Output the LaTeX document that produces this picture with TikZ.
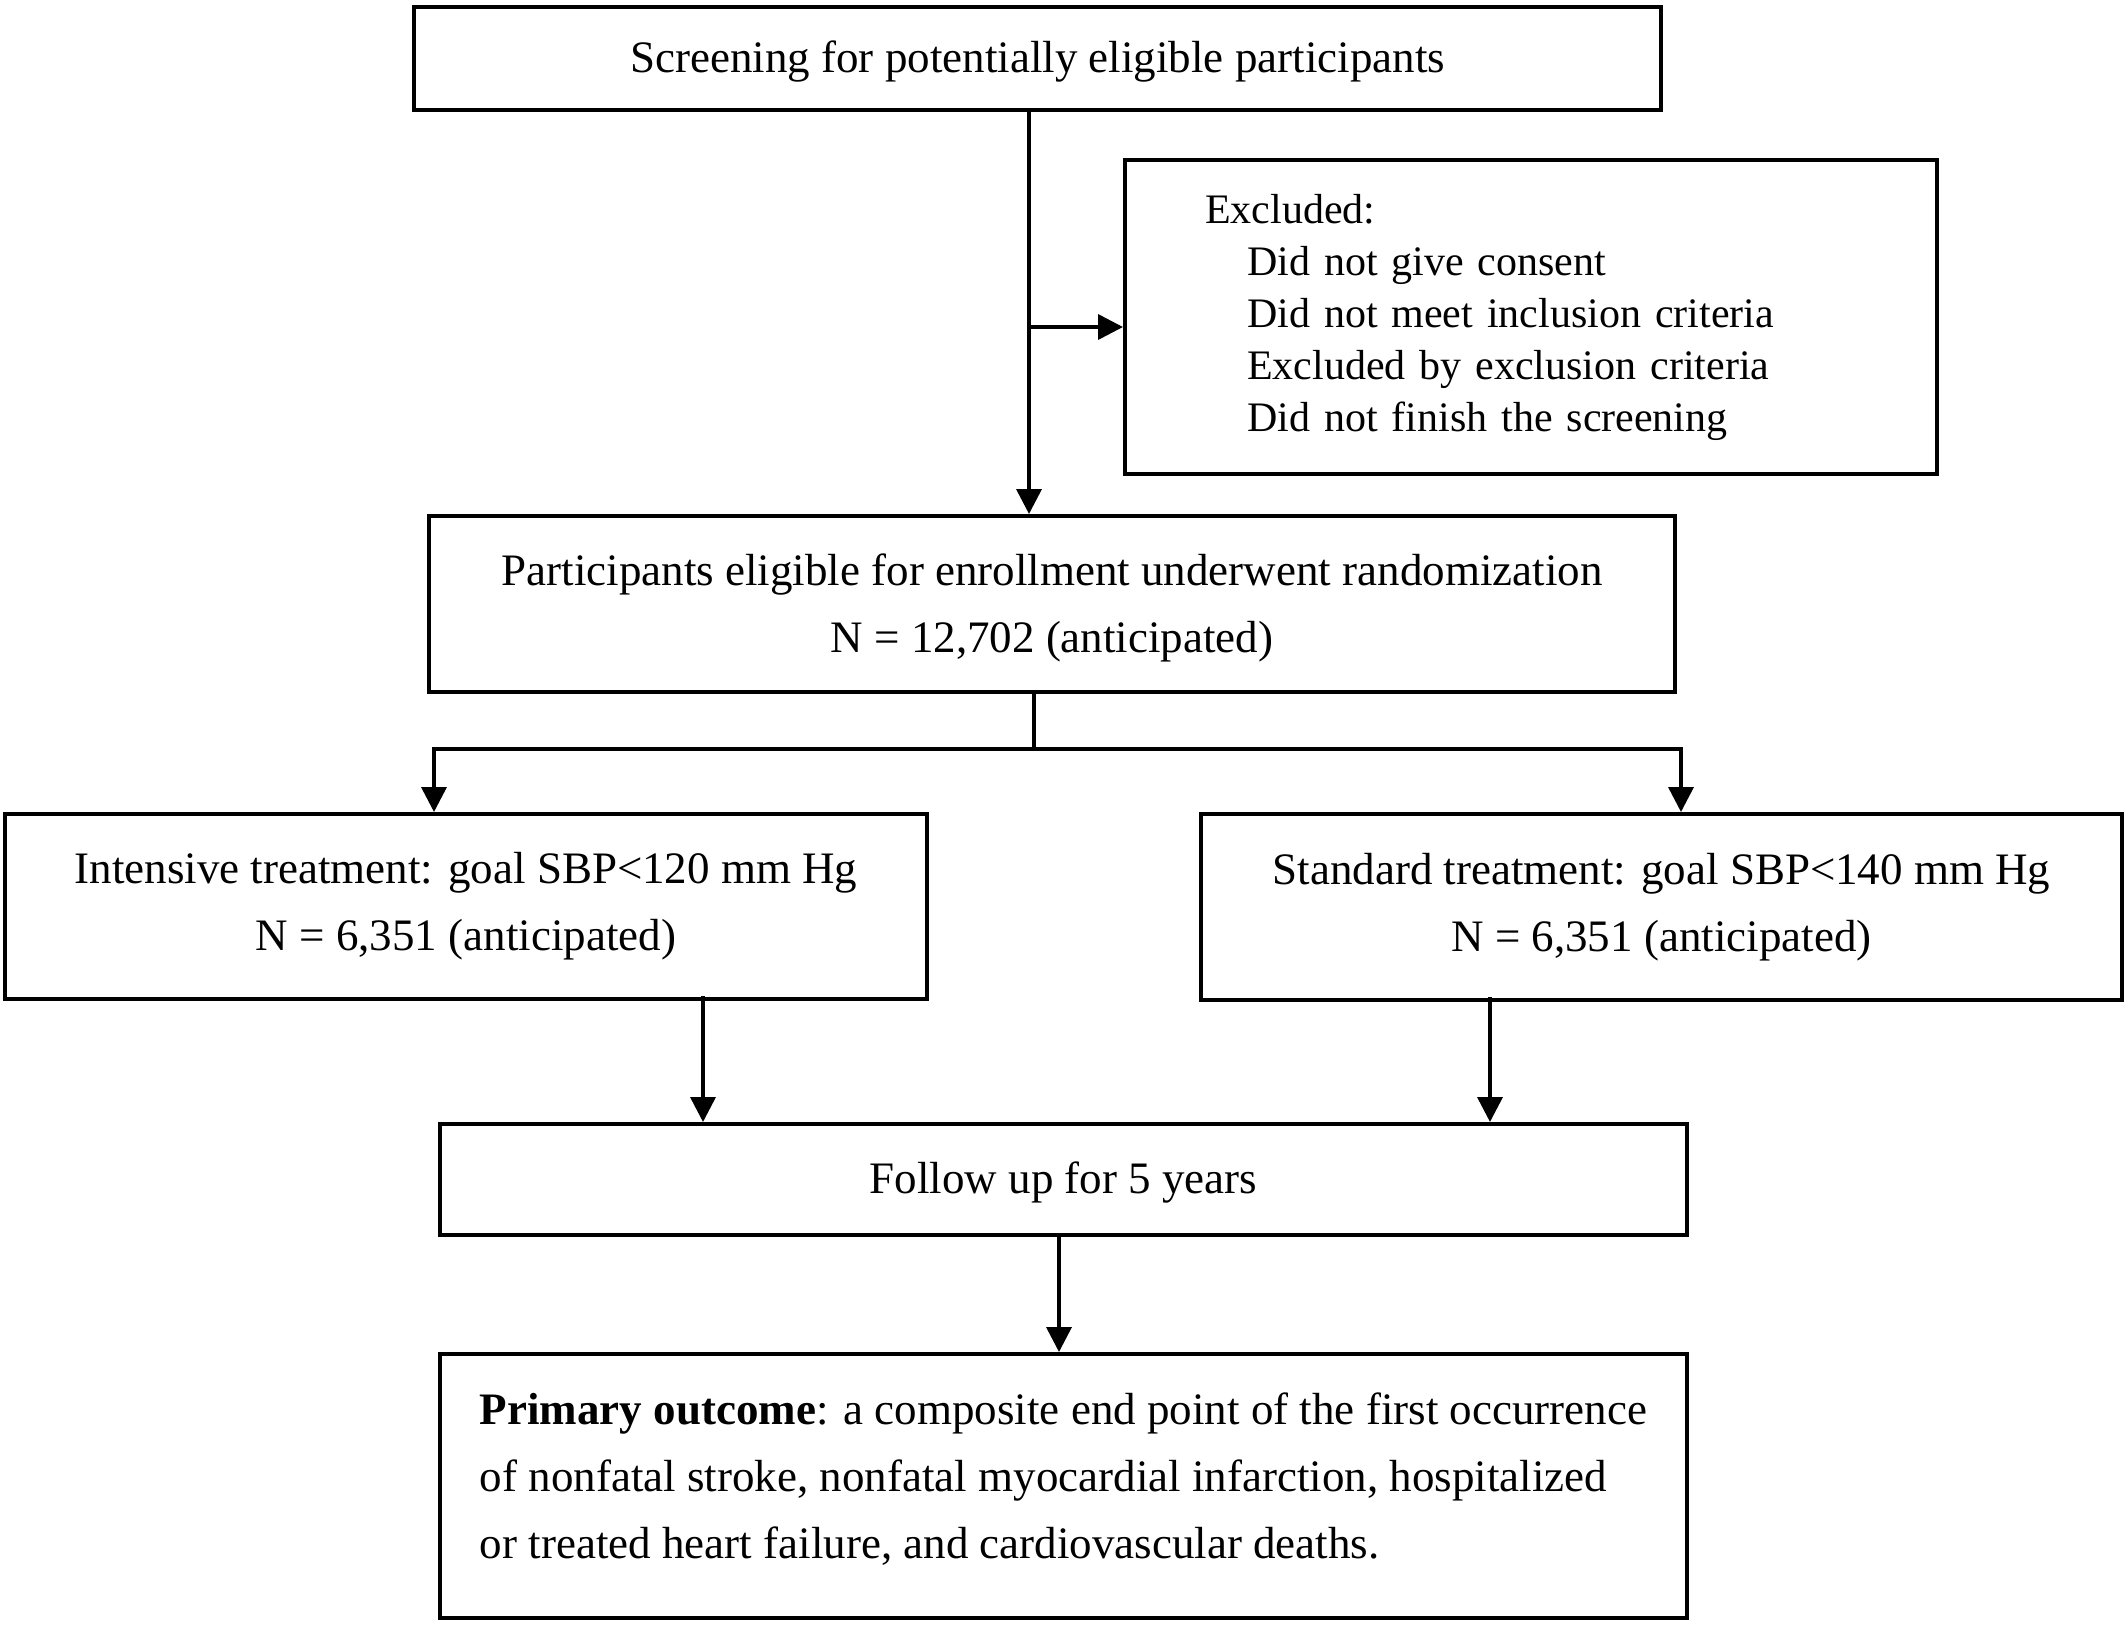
\documentclass[tikz,border=0pt]{standalone}
\usepackage{fontspec}
\setmainfont{Liberation Serif}
\usetikzlibrary{arrows.meta,calc}
\begin{document}
\begin{tikzpicture}[x=1pt,y=-1pt,
  box/.style={draw=black,line width=4pt,rectangle,inner sep=0pt,
    font=\fontsize{45}{67}\selectfont,align=center},
  conn/.style={line width=3.6pt,draw=black},
  arr/.style={conn,-{Triangle[length=25pt,width=25pt]}}]
\useasboundingbox (0,0) rectangle (2128,1625);
\fill[white] (0,0) rectangle (2128,1625);

\node[box,minimum width=1247pt,minimum height=103pt] (s1) at (1037.5,58.5)
  {\rule{0pt}{37pt}Screening for potentially eligible participants};
\node[box,minimum width=812pt,minimum height=314pt,text width=652pt,inner xsep=80pt,
  align=left,font=\fontsize{42}{52}\selectfont] (ex) at (1531,317)
  {Excluded:\\
   \hspace*{42pt}Did not give consent\\
   \hspace*{42pt}Did not meet inclusion criteria\\
   \hspace*{42pt}Excluded by exclusion criteria\\
   \hspace*{42pt}Did not finish the screening};
\node[box,minimum width=1246pt,minimum height=176pt] (s3) at (1052,604)
  {\rule{0pt}{39pt}Participants eligible for enrollment underwent randomization\\N = 12,702 (anticipated)};
\node[box,minimum width=922pt,minimum height=185pt] (s4) at (466,906.5)
  {Intensive treatment: goal SBP<120 mm Hg\\N = 6,351 (anticipated)};
\node[box,minimum width=921pt,minimum height=186pt] (s5) at (1661.5,907)
  {Standard treatment: goal SBP<140 mm Hg\\N = 6,351 (anticipated)};
\node[box,minimum width=1247pt,minimum height=111pt] (s6) at (1063.5,1179.5)
  {\rule{0pt}{37pt}Follow up for 5 years};
\node[box,minimum width=1247pt,minimum height=264pt,align=left] (s7) at (1063.5,1486)
  {\textbf{Primary outcome}: a composite end point of the first occurrence\\
   of nonfatal stroke, nonfatal myocardial infarction, hospitalized\\
   or treated heart failure, and cardiovascular deaths.\rule[-21pt]{0pt}{21pt}};

\coordinate (mx) at (1029,0);
\coordinate (ey) at (0,327);
\draw[arr] (s1.south -| mx) -- (s3.north -| mx);
\draw[arr] (mx |- ey) -- (ex.west |- ey);

\coordinate (br) at (1034,749);
\coordinate (bl) at (434,749);
\coordinate (brr) at (1681,749);
\draw[conn] (s3.south -| br) -- (br);
\draw[arr] (br) -| (bl |- s4.north);
\draw[arr] (br) -| (brr |- s5.north);

\coordinate (c4) at (703,0);
\coordinate (c5) at (1490,0);
\coordinate (c6) at (1059,0);
\draw[arr] ([yshift=5pt]s4.south -| c4) -- (s6.north -| c4);
\draw[arr] ([yshift=5pt]s5.south -| c5) -- (s6.north -| c5);
\draw[arr] (s6.south -| c6) -- (s7.north -| c6);
\end{tikzpicture}
\end{document}
